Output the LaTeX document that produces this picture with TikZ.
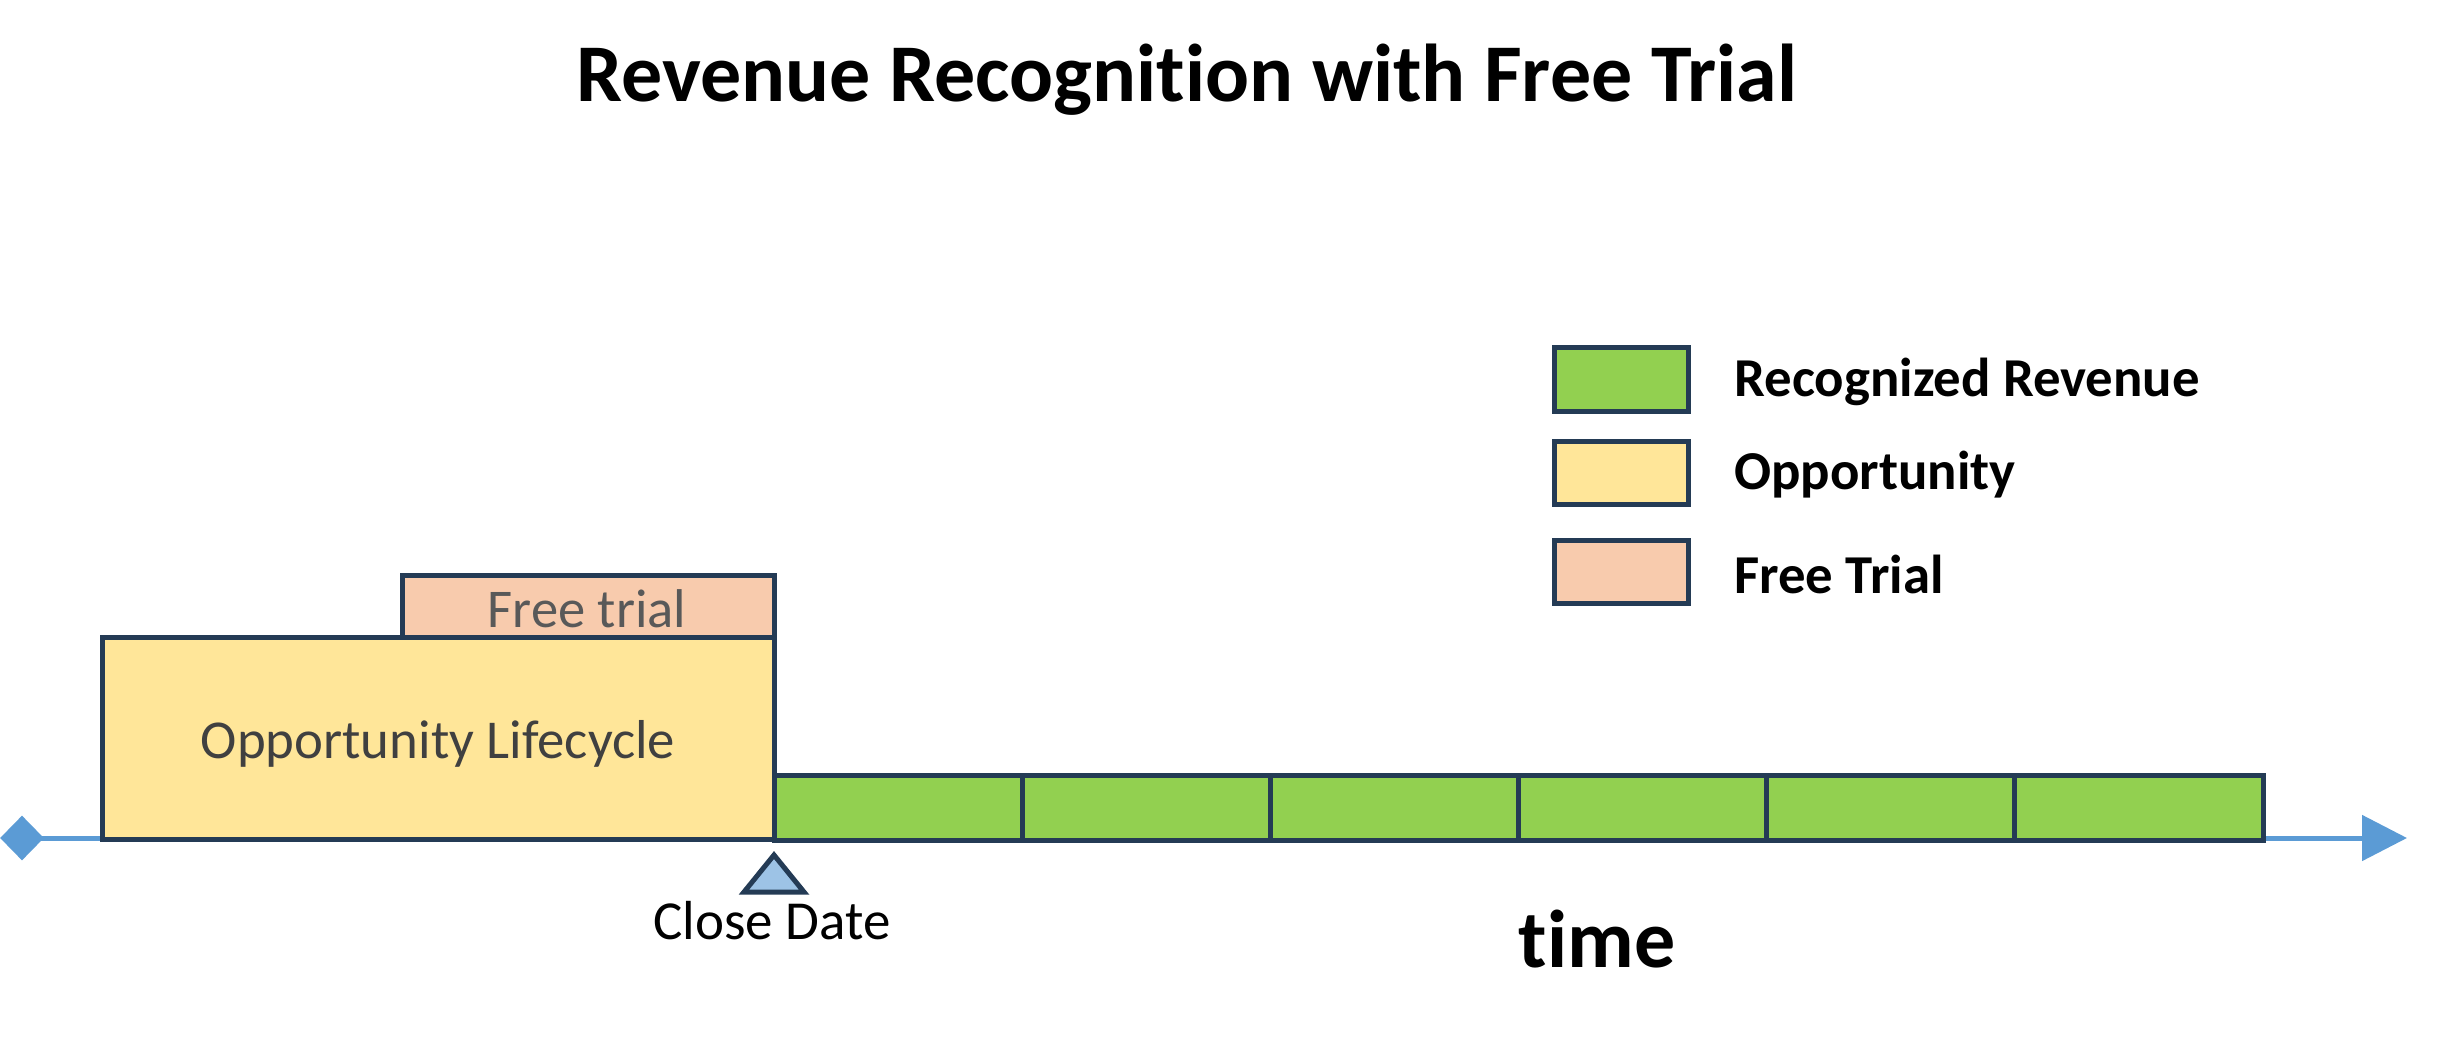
\documentclass[tikz,border=0pt]{standalone}
\usepackage{fontspec}
\setmainfont{Carlito}[Ligatures=NoCommon]
\usetikzlibrary{shapes.geometric,arrows.meta}
\definecolor{edgec}{HTML}{243B55}
\definecolor{revc}{HTML}{92D050}
\definecolor{oppc}{HTML}{FFE699}
\definecolor{trialc}{HTML}{F8CBAD}
\definecolor{axisc}{HTML}{5B9BD5}
\definecolor{markc}{HTML}{9DC3E6}
\definecolor{greytxt}{HTML}{404040}
\definecolor{lightgreytxt}{HTML}{595959}
\tikzset{
  box/.style={draw=edgec, line width=2.5pt, inner sep=0pt, outer sep=0pt},
  revbox/.style={box, fill=revc, minimum width=124.08pt, minimum height=32.5pt},
  legbox/.style={box, minimum width=67pt, minimum height=31.5pt},
  legtxt/.style={anchor=west, inner sep=0pt, font=\fontsize{27.4}{32}\selectfont\bfseries},
}
\begin{document}
\begin{tikzpicture}[x=0.5pt,y=-0.5pt]
\useasboundingbox (0,0) rectangle (2455,1037);
% title
\node[font=\fontsize{41}{49}\selectfont\bfseries] (title) at (1187,80) {Revenue Recognition with Free Trial};
% axis
\node[diamond, fill=axisc, inner sep=0pt, minimum width=22pt, minimum height=22.5pt] (start) at (22,838) {};
\coordinate (tip) at (2407,838);
\draw[axisc, line width=2.5pt, -{Triangle[length=22.5pt,width=22.5pt]}] (start.center) -- (tip);
% opportunity & trial
\node[box, fill=oppc, minimum width=336pt, minimum height=101pt, text=greytxt,
      font=\fontsize{27.4}{32}\selectfont] (opp) at (438,738) {};
\node[text=greytxt, font=\fontsize{27.4}{32}\selectfont] (opptxt) at (438,744) {Opportunity Lifecycle};
\node[box, fill=trialc, minimum width=186pt, minimum height=31pt, text=lightgreytxt,
      font=\fontsize{27.3}{32}\selectfont] (trial) at (588,606) {};
\node[text=lightgreytxt, font=\fontsize{27.3}{32}\selectfont] (trialtxt) at (587,609) {Free trial};
% recognized revenue segments
\foreach \i in {0,...,5} {
  \node[revbox] (r\i) at ({774+124.08+248.17*\i},807.5) {};
}
% close date marker
\coordinate (ma) at (774,855);
\coordinate (mb) at (804,892);
\coordinate (mc) at (744,892);
\draw[edgec, fill=markc, line width=2.5pt, line join=miter] (ma) -- (mb) -- (mc) -- cycle;
\node[font=\fontsize{27.5}{33}\selectfont] (close) at (772,921) {Close Date};
% time
\node[font=\fontsize{41}{49}\selectfont\bfseries] (time) at (1597,939) {time};
% legend
\node[legbox, fill=revc] (l1) at (1621,379.5) {};
\node[legbox, fill=oppc] (l2) at (1621,472.5) {};
\node[legbox, fill=trialc] (l3) at (1621,571.5) {};
\node[legtxt] (t1) at (1734,382) {Recognized Revenue};
\node[legtxt] (t2) at (1734,475) {Opportunity};
\node[legtxt] (t3) at (1734,574) {Free Trial};
\end{tikzpicture}
\end{document}
